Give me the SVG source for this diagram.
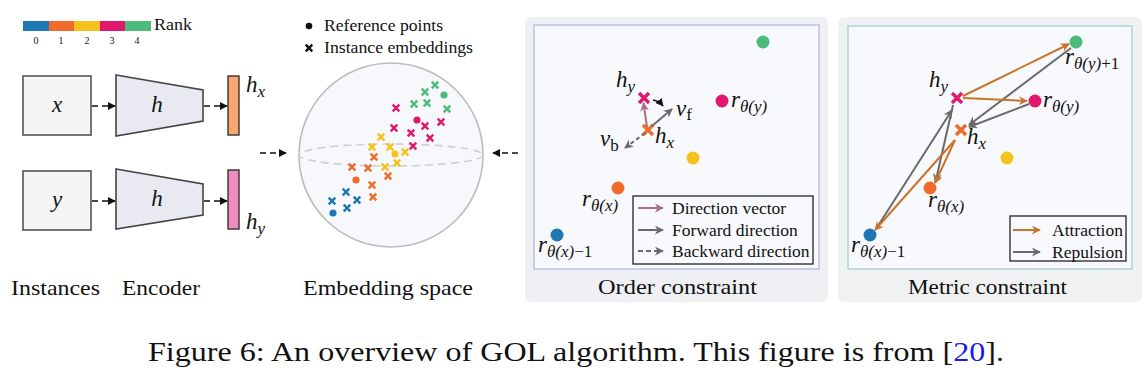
<svg xmlns="http://www.w3.org/2000/svg" width="1148" height="378" viewBox="0 0 1148 378">
<style>
.lbl{font-family:"Liberation Serif",serif;font-size:21.5px;fill:#111}
.sm{font-family:"Liberation Serif",serif;fill:#111}
.m{font-family:"Liberation Serif",serif;font-style:italic;font-size:23px;fill:#111}
.sub{font-size:17px}
.up{font-style:normal}
.dash{stroke:#111;stroke-width:1.6;stroke-dasharray:6 4;fill:none}
.box{fill:#f4f5f6;stroke:#555;stroke-width:1.6}
.enc{fill:#e8e9f1;stroke:#444;stroke-width:1.6}
.c0{stroke:#1f78b4}.c1{stroke:#f26a2c}.c2{stroke:#f4c21b}.c3{stroke:#e0196f}.c4{stroke:#4dbb7b}
.f0{fill:#1f78b4}.f1{fill:#f26a2c}.f2{fill:#f4c21b}.f3{fill:#e0196f}.f4{fill:#4dbb7b}
.gr{stroke:#6a6a6a;stroke-width:2;fill:none}
.or{stroke:#c8742a;stroke-width:2;fill:none}
.mv{stroke:#a8707f;stroke-width:2;fill:none}
</style>
<defs>
<path id="xs" d="M-3.3,-3.3L3.3,3.3M3.3,-3.3L-3.3,3.3" stroke-width="2.4" fill="none"/>
<path id="xl" d="M-5,-5L5,5M5,-5L-5,5" stroke-width="3.4" fill="none"/>
<marker id="ab" viewBox="0 0 10 10" refX="9" refY="5" markerWidth="8" markerHeight="8" markerUnits="userSpaceOnUse" orient="auto"><path d="M0,0L10,5L0,10z" fill="#111"/></marker>
<marker id="ag" viewBox="0 0 10 10" refX="9" refY="5" markerWidth="9" markerHeight="9" markerUnits="userSpaceOnUse" orient="auto"><path d="M0,0L10,5L0,10L3,5z" fill="#6a6a6a"/></marker>
<marker id="ao" viewBox="0 0 10 10" refX="9" refY="5" markerWidth="9" markerHeight="9" markerUnits="userSpaceOnUse" orient="auto"><path d="M0,0L10,5L0,10L3,5z" fill="#c8742a"/></marker>
<marker id="am" viewBox="0 0 10 10" refX="9" refY="5" markerWidth="9" markerHeight="9" markerUnits="userSpaceOnUse" orient="auto"><path d="M0,0L10,5L0,10L3,5z" fill="#a8707f"/></marker>
</defs>
<rect width="1148" height="378" fill="#fff"/>

<!-- Rank bar -->
<g id="rank">
<rect x="23" y="21" width="26" height="10" class="f0"/>
<rect x="49" y="21" width="25" height="10" class="f1"/>
<rect x="74" y="21" width="26" height="10" class="f2"/>
<rect x="100" y="21" width="25" height="10" class="f3"/>
<rect x="125" y="21" width="26" height="10" class="f4"/>
<text x="154" y="30" class="sm" font-size="16" textLength="38" lengthAdjust="spacingAndGlyphs">Rank</text>
<g class="sm" font-size="10" text-anchor="middle">
<text x="36" y="44">0</text><text x="61" y="44">1</text><text x="87" y="44">2</text><text x="112" y="44">3</text><text x="137" y="44">4</text>
</g>
</g>

<g id="inst-x"><rect x="23" y="76" width="68" height="59" class="box"/><text x="57" y="112" class="m" text-anchor="middle">x</text></g>
<g id="inst-y"><rect x="23" y="171" width="68" height="59" class="box"/><text x="57" y="207" class="m" text-anchor="middle">y</text></g>
<g id="enc-x"><path d="M116,75L203,90L203,121L116,136z" class="enc"/><text x="157" y="112" class="m" text-anchor="middle">h</text></g>
<g id="enc-y"><path d="M116,169L203,184L203,215L116,229z" class="enc"/><text x="157" y="206" class="m" text-anchor="middle">h</text></g>
<g id="hx-bar"><rect x="228" y="76" width="11" height="59" fill="#f9a66e" stroke="#333" stroke-width="1.4"/><text x="246" y="92" class="m">h<tspan class="sub" dy="5">x</tspan></text></g>
<g id="hy-bar"><rect x="228" y="170" width="11" height="59" fill="#f08cbf" stroke="#333" stroke-width="1.4"/><text x="246" y="229" class="m">h<tspan class="sub" dy="5">y</tspan></text></g>

<g id="left-connectors">
<line x1="92" y1="106" x2="115" y2="106" class="dash" marker-end="url(#ab)"/>
<line x1="92" y1="201" x2="115" y2="201" class="dash" marker-end="url(#ab)"/>
<line x1="204" y1="106" x2="227" y2="106" class="dash" marker-end="url(#ab)"/>
<line x1="204" y1="201" x2="227" y2="201" class="dash" marker-end="url(#ab)"/>
<line x1="260" y1="153" x2="286" y2="153" class="dash" marker-end="url(#ab)"/>
<line x1="518" y1="153" x2="493" y2="153" class="dash" marker-end="url(#ab)"/>
</g>

<g id="labels">
<text x="11" y="295" class="lbl" textLength="89" lengthAdjust="spacingAndGlyphs">Instances</text>
<text x="122" y="295" class="lbl" textLength="78" lengthAdjust="spacingAndGlyphs">Encoder</text>
<text x="303" y="295" class="lbl" textLength="170" lengthAdjust="spacingAndGlyphs">Embedding space</text>
</g>

<!-- Embedding sphere -->
<g id="sphere-legend">
<circle cx="309" cy="26" r="3.3" fill="#111"/>
<text x="324" y="31" class="sm" font-size="17" textLength="119" lengthAdjust="spacingAndGlyphs">Reference points</text>
<use href="#xs" x="309" y="48" stroke="#111"/>
<text x="324" y="53" class="sm" font-size="17" textLength="149" lengthAdjust="spacingAndGlyphs">Instance embeddings</text>
</g>
<g id="sphere">
<circle cx="391" cy="155" r="92" fill="#f7f8fb" stroke="#bcbcbc" stroke-width="1.6"/>
<ellipse cx="391" cy="155" rx="92" ry="11" fill="none" stroke="#cfcfcf" stroke-width="1.6" stroke-dasharray="8 5"/>
<g class="c4">
<use href="#xs" x="435" y="85"/><use href="#xs" x="425" y="92"/><use href="#xs" x="414" y="104"/><use href="#xs" x="427" y="103"/><use href="#xs" x="447" y="109"/>
</g>
<circle cx="444" cy="95" r="3.6" class="f4"/>
<g class="c3">
<use href="#xs" x="396" y="108"/><use href="#xs" x="425" y="126"/><use href="#xs" x="441" y="122"/><use href="#xs" x="394" y="128"/><use href="#xs" x="411" y="133"/><use href="#xs" x="430" y="138"/><use href="#xs" x="413" y="146"/>
</g>
<circle cx="417" cy="120" r="3.6" class="f3"/>
<g class="c2">
<use href="#xs" x="381" y="137"/><use href="#xs" x="372" y="147"/><use href="#xs" x="390" y="147"/><use href="#xs" x="405" y="152"/><use href="#xs" x="385" y="167"/><use href="#xs" x="397" y="163"/>
</g>
<circle cx="395" cy="154" r="3.6" class="f2"/>
<g class="c1">
<use href="#xs" x="374" y="157"/><use href="#xs" x="352" y="167"/><use href="#xs" x="368" y="168"/><use href="#xs" x="388" y="176"/><use href="#xs" x="372" y="185"/><use href="#xs" x="373" y="197"/>
</g>
<circle cx="356" cy="180" r="3.6" class="f1"/>
<g class="c0">
<use href="#xs" x="346" y="192"/><use href="#xs" x="332" y="201"/><use href="#xs" x="357" y="200"/><use href="#xs" x="347" y="208"/>
</g>
<circle cx="333" cy="213" r="3.6" class="f0"/>
</g>

<!-- Order constraint panel -->
<g id="order-panel">
<rect x="525" y="17" width="303" height="285" rx="6" fill="#eff0f3"/>
<rect x="534" y="25" width="285" height="244" fill="#f8f9fc" stroke="#b8bce0" stroke-width="1.4"/>
<text x="598" y="294" class="lbl" textLength="159" lengthAdjust="spacingAndGlyphs">Order constraint</text>
</g>
<g id="order-points">
<circle cx="763" cy="42" r="6.5" class="f4"/>
<circle cx="722" cy="101" r="6.5" class="f3"/>
<circle cx="693" cy="158" r="6.5" class="f2"/>
<circle cx="618" cy="188" r="6.5" class="f1"/>
<circle cx="557" cy="235" r="6.5" class="f0"/>
<use href="#xl" x="644" y="98" class="c3"/>
<use href="#xl" x="648" y="130" class="c1"/>
<text x="616" y="87" class="m">h<tspan class="sub" dy="5">y</tspan></text>
<text x="655" y="143" class="m">h<tspan class="sub" dy="5">x</tspan></text>
<text x="676" y="116" class="m">v<tspan class="sub up" dy="4">f</tspan></text>
<text x="600" y="146" class="m">v<tspan class="sub up" dy="5">b</tspan></text>
<text x="731" y="107" class="m">r<tspan class="sub" dy="5">θ(y)</tspan></text>
<text x="582" y="206" class="m">r<tspan class="sub" dy="5">θ(x)</tspan></text>
<text x="538" y="252" class="m">r<tspan class="sub" dy="5">θ(x)<tspan class="up">−1</tspan></tspan></text>
</g>
<g id="order-connectors">
<line x1="647" y1="127" x2="643.5" y2="103" class="mv" marker-end="url(#am)"/>
<line x1="652" y1="126" x2="672" y2="109" class="gr" marker-end="url(#ag)"/>
<line x1="645" y1="133" x2="625" y2="148" class="gr" stroke-dasharray="4 3" marker-end="url(#ag)"/>
<path d="M653,100 Q659,101 663,106" fill="none" stroke="#111" stroke-width="1.3" marker-end="url(#ab)"/>
</g>
<g id="order-legend">
<rect x="633" y="196" width="180" height="68" fill="#f8f9fc" stroke="#222" stroke-width="1.3"/>
<line x1="638" y1="208" x2="663" y2="208" class="mv" marker-end="url(#am)"/>
<line x1="638" y1="230" x2="663" y2="230" class="gr" marker-end="url(#ag)"/>
<line x1="638" y1="251" x2="663" y2="251" class="gr" stroke-dasharray="5 3" marker-end="url(#ag)"/>
<g class="sm" font-size="17.5">
<text x="672" y="214">Direction vector</text>
<text x="672" y="236">Forward direction</text>
<text x="672" y="257">Backward direction</text>
</g>
</g>

<!-- Metric constraint panel -->
<g id="metric-panel">
<rect x="838" y="17" width="304" height="285" rx="6" fill="#eff1f3"/>
<rect x="848" y="26" width="284" height="243" fill="#f8f9fc" stroke="#a9d0d8" stroke-width="1.4"/>
<text x="908" y="294" class="lbl" textLength="159" lengthAdjust="spacingAndGlyphs">Metric constraint</text>
</g>
<g id="metric-connectors">
<line x1="963" y1="96" x2="1069" y2="44" class="or" marker-end="url(#ao)"/>
<line x1="1071" y1="48" x2="969" y2="125" class="gr" marker-end="url(#ag)"/>
<line x1="963" y1="98" x2="1027" y2="101" class="or" marker-end="url(#ao)"/>
<line x1="1029" y1="104" x2="969" y2="127" class="gr" marker-end="url(#ag)"/>
<line x1="876" y1="229" x2="952" y2="110" class="gr" marker-end="url(#ag)"/>
<line x1="953" y1="105" x2="935.5" y2="182" class="gr" marker-end="url(#ag)"/>
<line x1="955" y1="140" x2="935" y2="183" class="or" marker-end="url(#ao)"/>
<line x1="955" y1="140" x2="875" y2="230" class="or" marker-end="url(#ao)"/>
</g>
<g id="metric-points">
<circle cx="1076" cy="42" r="6.5" class="f4"/>
<circle cx="1035" cy="101" r="6.5" class="f3"/>
<circle cx="1007" cy="158" r="6.5" class="f2"/>
<circle cx="930" cy="188" r="6.5" class="f1"/>
<circle cx="870" cy="235" r="6.5" class="f0"/>
<use href="#xl" x="957" y="98" class="c3"/>
<use href="#xl" x="961" y="130" class="c1"/>
<text x="929" y="87" class="m">h<tspan class="sub" dy="5">y</tspan></text>
<text x="967" y="144" class="m">h<tspan class="sub" dy="5">x</tspan></text>
<text x="1065" y="64" class="m">r<tspan class="sub" dy="5">θ(y)<tspan class="up">+1</tspan></tspan></text>
<text x="1043" y="107" class="m">r<tspan class="sub" dy="5">θ(y)</tspan></text>
<text x="928" y="207" class="m">r<tspan class="sub" dy="5">θ(x)</tspan></text>
<text x="851" y="252" class="m">r<tspan class="sub" dy="5">θ(x)<tspan class="up">−1</tspan></tspan></text>
</g>
<g id="metric-legend">
<rect x="1010" y="216" width="116" height="45" fill="#f8f9fc" stroke="#222" stroke-width="1.3"/>
<line x1="1013" y1="230" x2="1040" y2="230" class="or" marker-end="url(#ao)"/>
<line x1="1013" y1="252" x2="1040" y2="252" class="gr" stroke="#444" marker-end="url(#ag)"/>
<g class="sm" font-size="17.5">
<text x="1052" y="236">Attraction</text>
<text x="1052" y="258">Repulsion</text>
</g>
</g>

<g id="caption">
<text x="148" y="361" class="sm" font-size="27" textLength="856" lengthAdjust="spacingAndGlyphs">Figure 6: An overview of GOL algorithm. This figure is from [<tspan fill="#1a1aee">20</tspan>].</text>
</g>
</svg>
